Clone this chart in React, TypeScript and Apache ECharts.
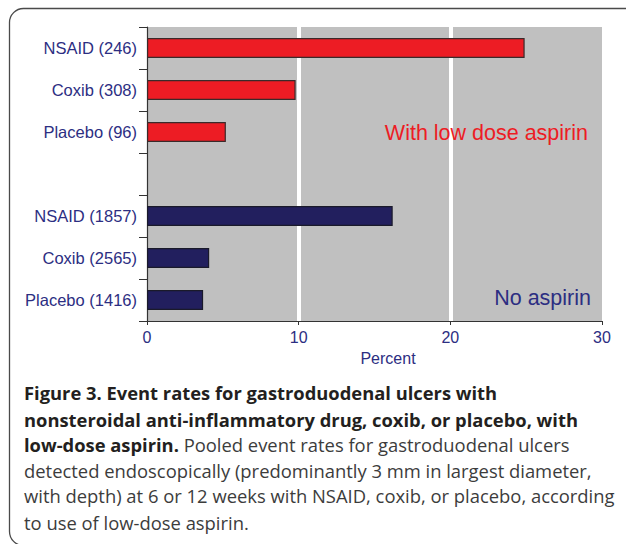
import React, { useEffect, useRef } from "react";
import * as echarts from "echarts";

const categories = [
  "NSAID (246)",
  "Coxib (308)",
  "Placebo (96)",
  "",
  "NSAID (1857)",
  "Coxib (2565)",
  "Placebo (1416)",
];
const withAspirin = [24.9, 9.8, 5.2, null, null, null, null];
const noAspirin = [null, null, null, null, 16.2, 4.1, 3.7];
const xTicks = { min: 0, max: 30, interval: 10 };
const axisTitle = "Percent";
const annotationWith = "With low dose aspirin";
const annotationNo = "No aspirin";
const captionBold1 = "Figure 3. Event rates for gastroduodenal ulcers with";
const captionBold2 = "nonsteroidal anti-inflammatory drug, coxib, or placebo, with";
const captionBold3 = "low-dose aspirin.";
const captionRest3 = " Pooled event rates for gastroduodenal ulcers";
const captionLines = [
  "detected endoscopically (predominantly 3 mm in largest diameter,",
  "with depth) at 6 or 12 weeks with NSAID, coxib, or placebo, according",
  "to use of low-dose aspirin.",
];

const RED = "#ed1c24";
const NAVY = "#221f5e";
const LABEL = "#2c2e82";
const SANS = "'Liberation Sans', Arial, Helvetica, sans-serif";
const CAP = "'Open Sans', Lato, sans-serif";

export default function App() {
  const ref = useRef<HTMLDivElement>(null);
  useEffect(() => {
    document.body.style.margin = "0";
    const chart = echarts.init(ref.current!, null, { renderer: "svg" });
    const capFs = 18.4;
    const capBoldFs = 18.35;
    const capX = 24;
    const lineY = [392.5, 419, 444.5, 470, 495.5, 522];
    chart.setOption({
      animation: false,
      grid: {
        left: 147,
        right: 24,
        top: 27,
        bottom: 223,
        show: true,
        backgroundColor: "#c0c0c0",
        borderWidth: 0,
      },
      xAxis: {
        type: "value",
        min: xTicks.min,
        max: xTicks.max,
        interval: xTicks.interval,
        name: axisTitle,
        nameLocation: "middle",
        nameGap: 29,
        nameTextStyle: { color: LABEL, fontSize: 16, fontFamily: SANS, padding: [0, 0, 0, 27] },
        axisLine: { show: true, lineStyle: { color: "#333", width: 1.2 } },
        axisTick: { show: true, length: 4, lineStyle: { color: "#333" } },
        axisLabel: { color: LABEL, fontSize: 16, fontFamily: SANS, margin: 8 },
        splitLine: {
          show: true,
          lineStyle: { color: ["rgba(0,0,0,0)", "#ffffff", "#ffffff", "rgba(0,0,0,0)"], width: 4 },
        },
      },
      yAxis: {
        type: "category",
        inverse: true,
        data: categories,
        axisLine: { show: true, lineStyle: { color: "#333", width: 1.2 } },
        axisTick: { show: true, length: 8, lineStyle: { color: "#333" } },
        axisLabel: { color: LABEL, fontSize: 16.5, fontFamily: SANS, margin: 10 },
        splitLine: { show: false },
      },
      series: [
        {
          name: annotationWith,
          type: "bar",
          data: withAspirin,
          barWidth: 20,
          barGap: "-100%",
          itemStyle: { color: RED, borderColor: "#3a2a2a", borderWidth: 1.2 },
        },
        {
          name: annotationNo,
          type: "bar",
          data: noAspirin,
          barWidth: 20,
          itemStyle: { color: NAVY, borderColor: "#1a1a2a", borderWidth: 1.2 },
        },
      ],
      graphic: [
        {
          type: "rect",
          z: 100,
          shape: { x: 9.5, y: 8.5, width: 640, height: 537, r: 14 },
          style: { fill: "none", stroke: "#4a4a4a", lineWidth: 1.3 },
          silent: true,
        },
        {
          type: "text",
          z: 100,
          x: 588,
          y: 133,
          style: {
            text: annotationWith,
            fill: RED,
            font: `21.5px ${SANS}`,
            textAlign: "right",
            textVerticalAlign: "middle",
          },
        },
        {
          type: "text",
          z: 100,
          x: 591,
          y: 298,
          style: {
            text: annotationNo,
            fill: LABEL,
            font: `21.5px ${SANS}`,
            textAlign: "right",
            textVerticalAlign: "middle",
          },
        },
        {
          type: "text",
          z: 100,
          x: capX,
          y: lineY[0],
          style: {
            text: captionBold1,
            fill: "#231f20",
            font: `bold ${capBoldFs}px ${CAP}`,
            textVerticalAlign: "middle",
          },
        },
        {
          type: "text",
          z: 100,
          x: capX,
          y: lineY[1],
          style: {
            text: captionBold2,
            fill: "#231f20",
            font: `bold ${capBoldFs}px ${CAP}`,
            textVerticalAlign: "middle",
          },
        },
        {
          type: "text",
          z: 100,
          x: capX,
          y: lineY[2],
          style: {
            text: `{b|${captionBold3}}{r|${captionRest3}}`,
            textVerticalAlign: "middle",
            rich: {
              b: { fill: "#231f20", fontWeight: "bold", fontSize: capBoldFs, fontFamily: CAP },
              r: { fill: "#3c3c3c", fontWeight: "normal", fontSize: capFs, fontFamily: CAP },
            },
          },
        },
        ...captionLines.map((t, i) => ({
          type: "text",
          z: 100,
          x: capX,
          y: lineY[3 + i],
          style: {
            text: t,
            fill: "#3c3c3c",
            font: `${capFs}px ${CAP}`,
            textVerticalAlign: "middle",
          },
        })),
      ],
    });
    return () => chart.dispose();
  }, []);
  return <div ref={ref} style={{ width: 626, height: 544 }} />;
}
